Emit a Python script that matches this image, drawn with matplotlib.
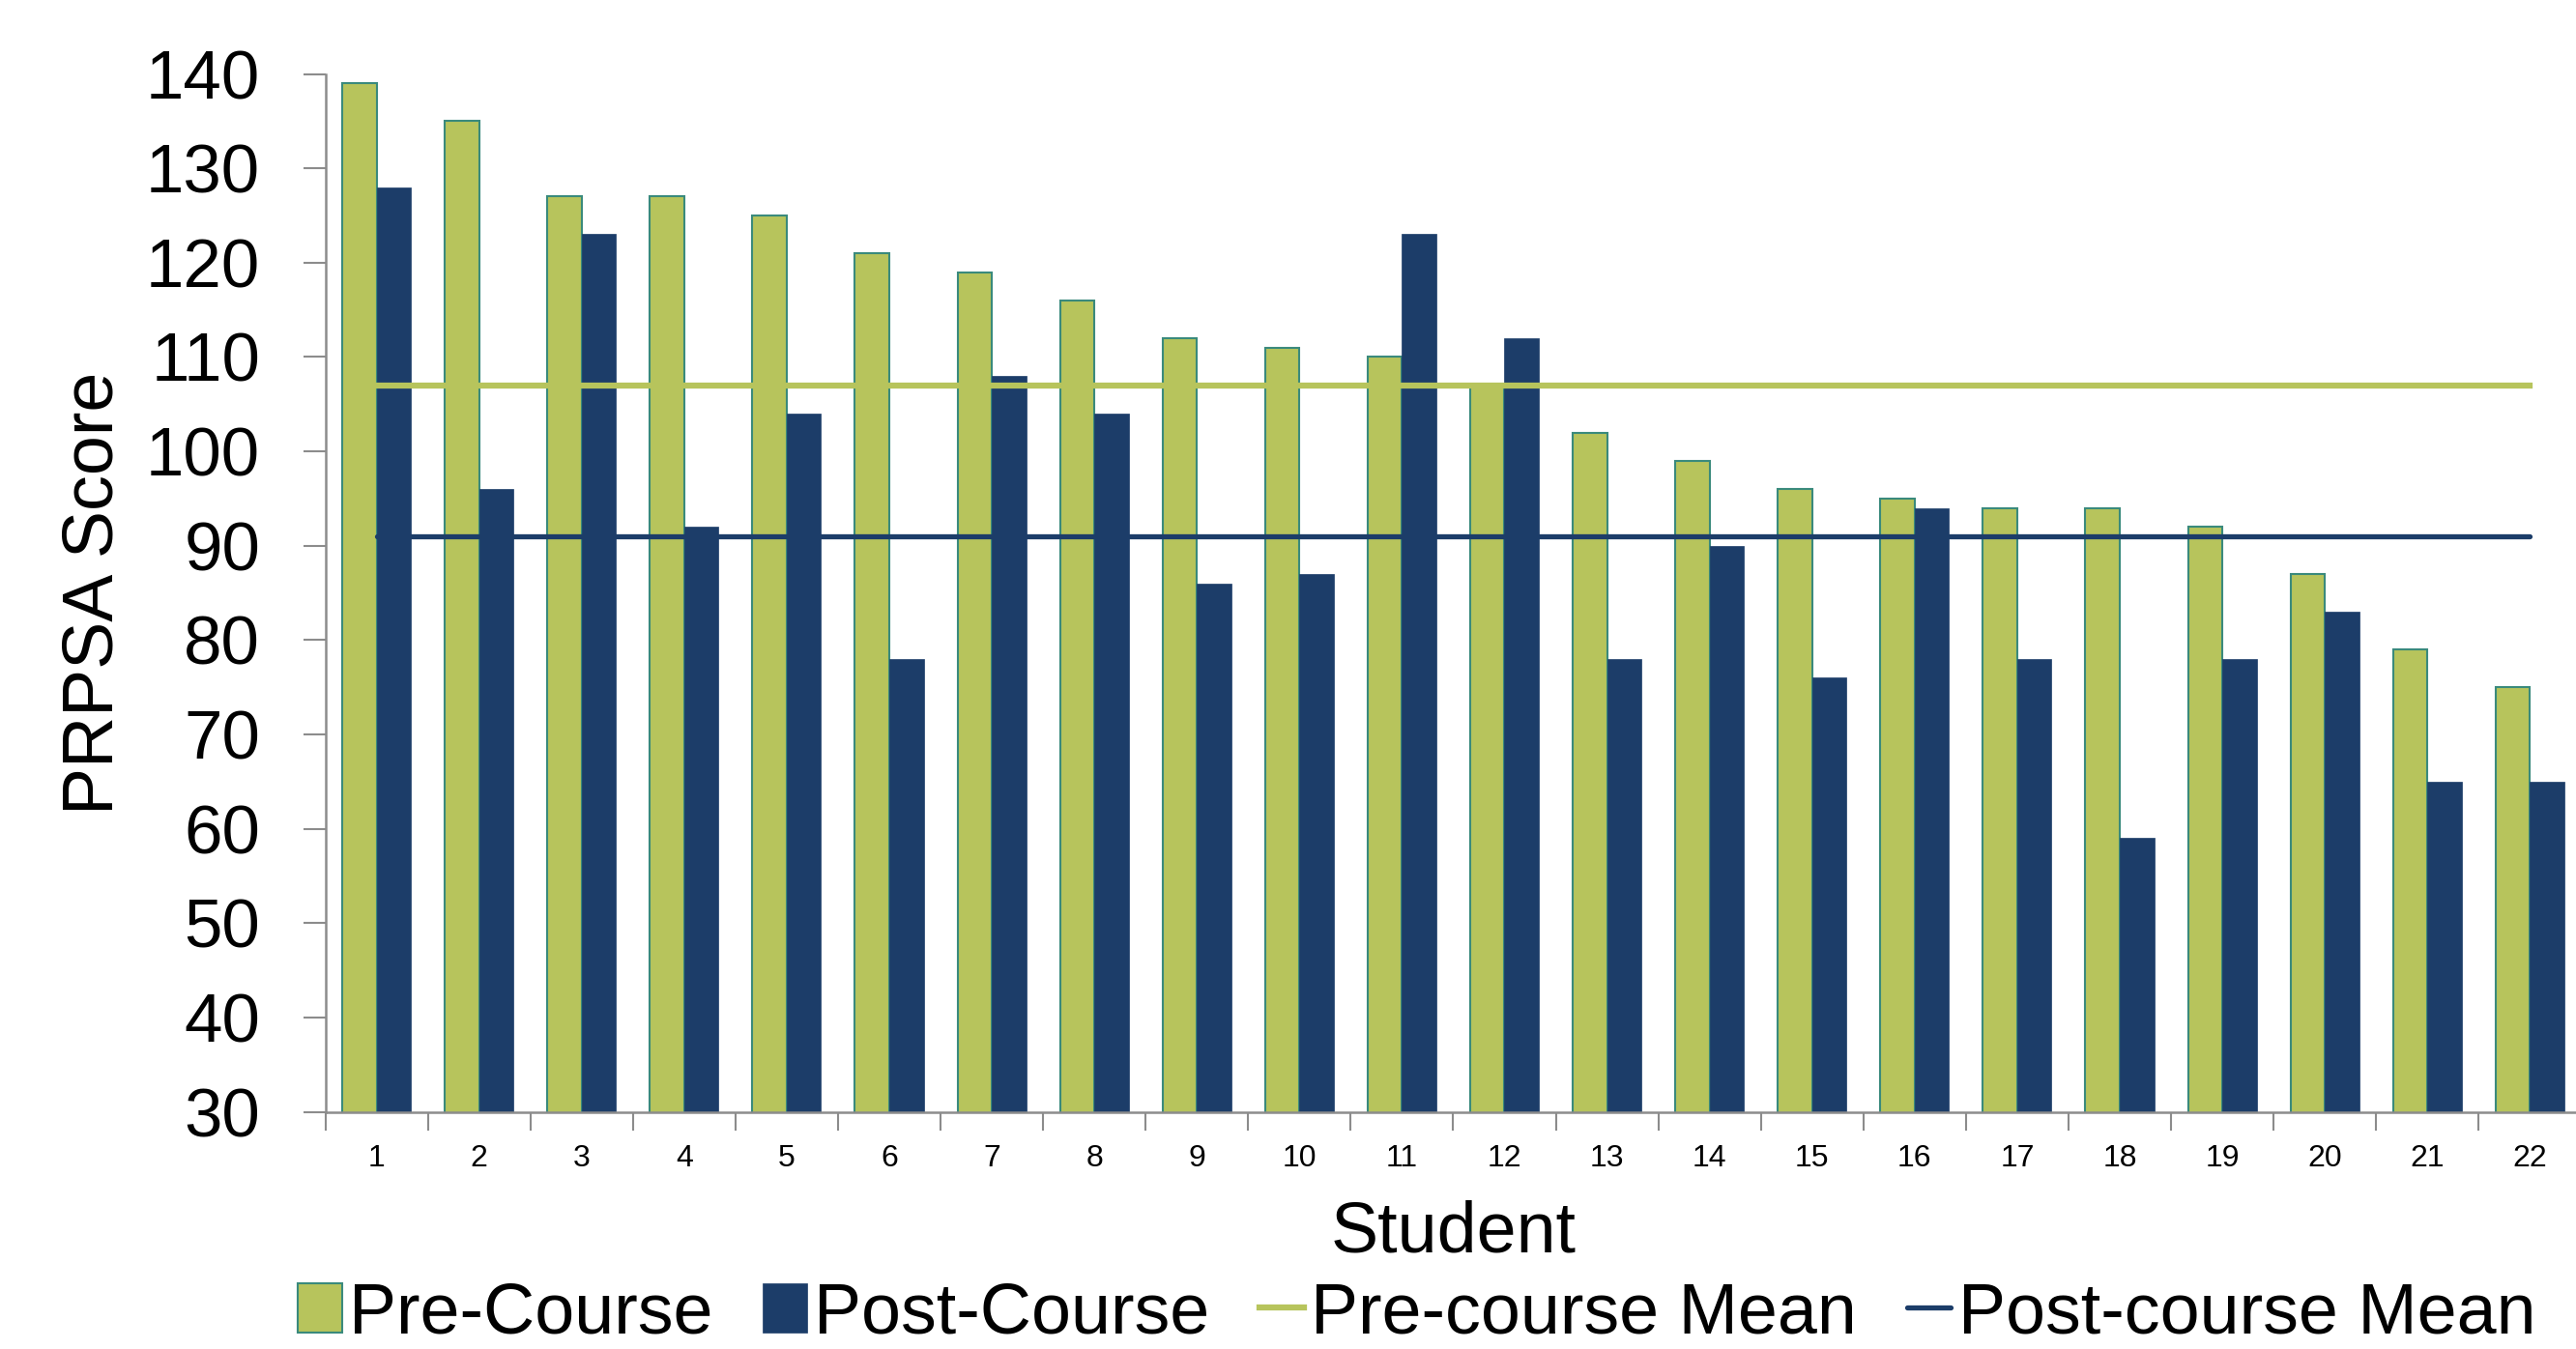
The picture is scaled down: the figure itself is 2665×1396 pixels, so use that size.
import matplotlib
matplotlib.use("Agg")
import matplotlib.pyplot as plt
import numpy as np

# --- data
students  = list(range(1, 23))
pre_score = [139, 135, 127, 127, 125, 121, 119, 116, 112, 111, 110,
             107, 102, 99, 96, 95, 94, 94, 92, 87, 79, 75]
post_score = [128, 96, 123, 92, 104, 78, 108, 104, 86, 87, 123,
              112, 78, 90, 76, 94, 78, 59, 78, 83, 65, 65]
pre_mean  = 107
post_mean = 91
y_ticks   = [30, 40, 50, 60, 70, 80, 90, 100, 110, 120, 130, 140]

green = "#B7C45C"
navy  = "#1C3D69"
edge  = "#3A8A7C"
gray  = "#8C8C8C"

plt.rcParams["font.family"] = ["Liberation Sans", "DejaVu Sans"]

fig = plt.figure(figsize=(26.65, 13.96), dpi=100)
ax = fig.add_axes([0.1263, 0.1758, 0.8757, 0.7694])

x = np.array(students)
w = 0.335
b1 = ax.bar(x - w / 2, pre_score, w, color=green, edgecolor=edge, linewidth=1.5,
            label="Pre-Course", zorder=2)
b2 = ax.bar(x + w / 2, post_score, w, color=navy, edgecolor=navy, linewidth=0.5,
            label="Post-Course", zorder=2)
l1, = ax.plot([x[0], x[-1]], [pre_mean, pre_mean], color=green, lw=4.5,
              label="Pre-course Mean", zorder=3)
l2, = ax.plot([x[0], x[-1]], [post_mean, post_mean], color=navy, lw=3.8,
              solid_capstyle="round", label="Post-course Mean", zorder=3)

ax.set_xlim(0.5, 22.5)
ax.set_ylim(30, 140)
ax.set_yticks(y_ticks)
ax.tick_params(axis="y", direction="out", length=16.5, width=1.5, color=gray,
               labelsize=51, pad=32)

# ticks between categories, labels under categories
ax.set_xticks(np.arange(0.5, 23.0, 1.0))
ax.set_xticklabels([])
ax.tick_params(axis="x", which="major", direction="out", length=14, width=1.5,
               color=gray)
ax.set_xticks(x, minor=True)
ax.set_xticklabels([str(s) for s in students], minor=True)
ax.tick_params(axis="x", which="minor", length=0, labelsize=23, pad=24)

for s in ["top", "right"]:
    ax.spines[s].set_visible(False)
for s in ["left", "bottom"]:
    ax.spines[s].set_color(gray)
    ax.spines[s].set_linewidth(1.8)

ax.set_xlabel("Student", fontsize=53)
ax.xaxis.label.set_va("center")
ax.xaxis.set_label_coords(0.5, -0.117)
ax.set_ylabel("PRPSA Score", fontsize=53)
ax.yaxis.label.set_va("center")
ax.yaxis.set_label_coords(-0.1026, 0.5)

fig.legend(handles=[b1, b2, l1, l2], loc="center", bbox_to_anchor=(0.55, 0.026),
           ncol=4, frameon=False, fontsize=53, handlelength=0.62,
           handleheight=0.7, handletextpad=0.1, columnspacing=0.7,
           borderpad=0, borderaxespad=0)

fig.savefig("out.png", dpi=100)
